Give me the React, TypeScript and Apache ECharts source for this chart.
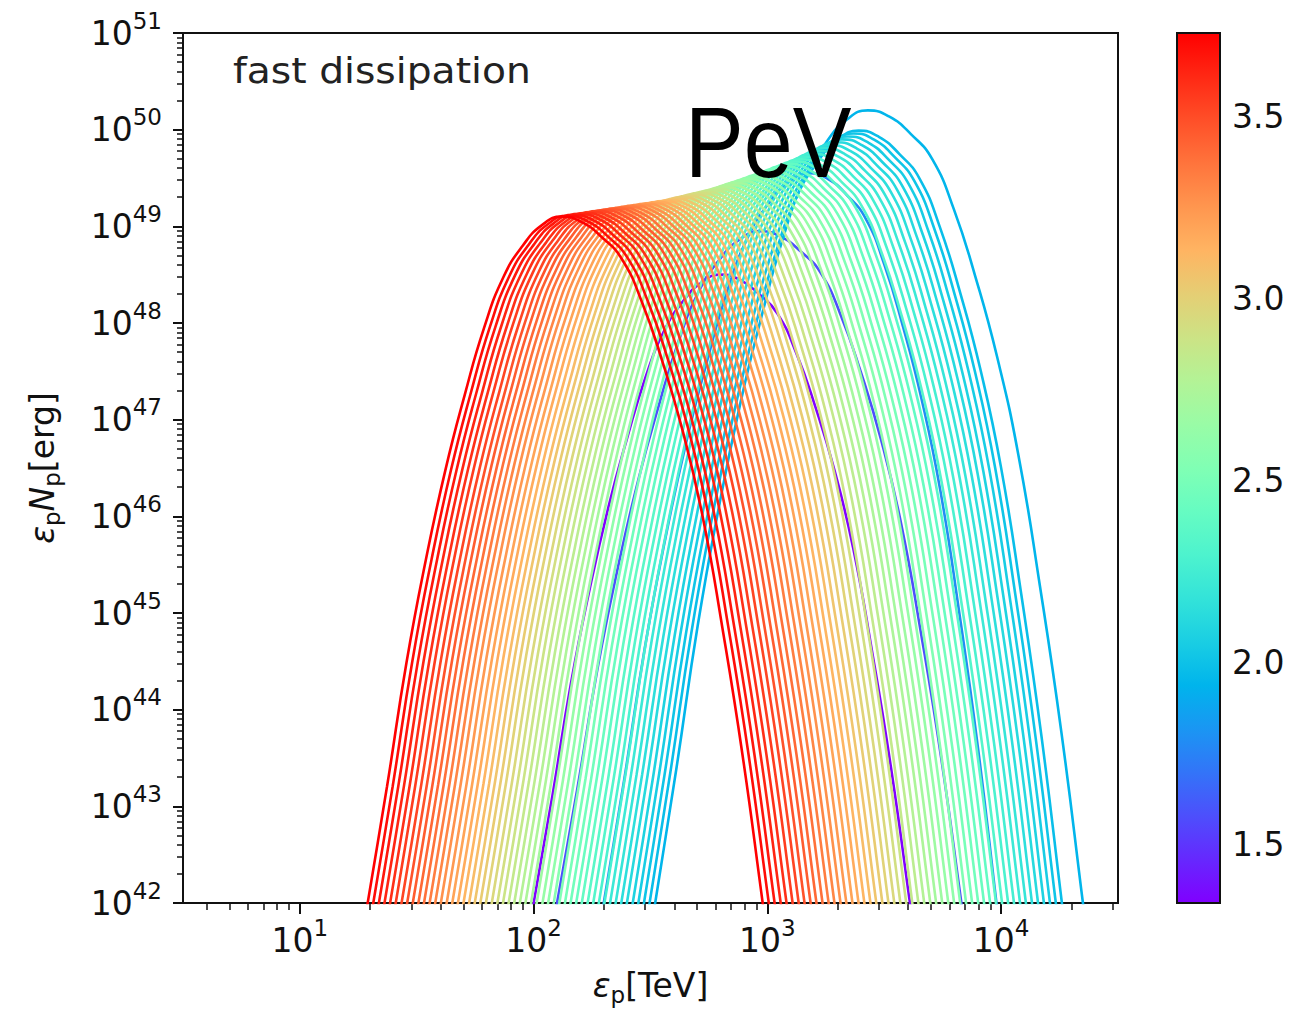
import React, { useEffect, useRef } from "react";
import * as echarts from "echarts";

// ---- data (log10 units) ----
// colour-bar value of each curve, in drawing order
const colorValues = [
  1.34, 1.58, 1.78,
  1.94, 1.98, 2.01, 2.05, 2.08, 2.12, 2.15, 2.19, 2.22, 2.26, 2.29, 2.33, 2.36, 2.4, 2.43, 2.47, 2.5,
  2.54, 2.57, 2.61, 2.64, 2.68, 2.71, 2.75, 2.78, 2.82, 2.85, 2.89, 2.92, 2.96, 2.99, 3.03, 3.06, 3.1,
  3.13, 3.17, 3.2, 3.24, 3.27, 3.31, 3.34, 3.38, 3.41, 3.45, 3.48, 3.52, 3.55, 3.59, 3.62, 3.66, 3.69, 3.73,
];
// log10(eps_p/TeV) where each curve crosses 1e42 on its rising side
const footLeft = [
  2.0, 2.1, 2.3,
  2.52, 2.496, 2.472, 2.448, 2.424, 2.399, 2.375, 2.351, 2.327, 2.303, 2.279, 2.255, 2.231, 2.206, 2.182,
  2.158, 2.134, 2.11, 2.086, 2.062, 2.038, 2.013, 1.989, 1.965, 1.941, 1.917, 1.893, 1.869, 1.845, 1.821,
  1.796, 1.772, 1.748, 1.724, 1.7, 1.676, 1.652, 1.628, 1.603, 1.579, 1.555, 1.531, 1.507, 1.483, 1.459,
  1.435, 1.41, 1.386, 1.362, 1.338, 1.314, 1.29,
];
// log10(eps_p/TeV) of each peak
const peakE = [
  2.8, 2.97, 3.18,
  3.43, 3.39, 3.37, 3.345, 3.32, 3.295, 3.27, 3.245, 3.22, 3.195, 3.17, 3.144, 3.119, 3.093, 3.068,
  3.042, 3.016, 2.991, 2.965, 2.939, 2.914, 2.888, 2.862, 2.837, 2.811, 2.786, 2.76, 2.734, 2.709, 2.683,
  2.657, 2.632, 2.606, 2.581, 2.555, 2.529, 2.504, 2.478, 2.452, 2.427, 2.401, 2.375, 2.35, 2.324, 2.299,
  2.273, 2.247, 2.222, 2.196, 2.17, 2.145, 2.12,
];
// log10(eps_p N_p / erg) of each peak
const peakN = [
  48.5, 48.95, 49.55,
  50.2, 49.99, 49.96, 49.93, 49.9, 49.87, 49.84, 49.81, 49.78, 49.75, 49.72, 49.694, 49.671, 49.646, 49.623,
  49.599, 49.575, 49.553, 49.532, 49.511, 49.49, 49.469, 49.448, 49.428, 49.407, 49.388, 49.373, 49.358, 49.344, 49.329,
  49.314, 49.3, 49.285, 49.27, 49.261, 49.252, 49.242, 49.233, 49.223, 49.214, 49.205, 49.195, 49.186, 49.177, 49.167,
  49.157, 49.148, 49.138, 49.129, 49.119, 49.109, 49.1,
];
// log10(eps_p/TeV) where each curve crosses 1e42 on its falling side
const footRight = [
  3.61, 3.83, 3.98,
  4.35, 4.26, 4.234, 4.209, 4.183, 4.158, 4.132, 4.106, 4.081, 4.055, 4.03, 4.004, 3.978, 3.953, 3.927,
  3.902, 3.876, 3.85, 3.825, 3.799, 3.774, 3.748, 3.722, 3.697, 3.671, 3.646, 3.62, 3.594, 3.569, 3.543,
  3.518, 3.492, 3.466, 3.441, 3.415, 3.39, 3.364, 3.338, 3.313, 3.287, 3.262, 3.236, 3.21, 3.185, 3.159,
  3.134, 3.108, 3.082, 3.057, 3.031, 3.006, 2.98,
];
// common curve profile (fraction of width from foot -> fraction of height)
const riseU = [-0.12, 0, 0.1, 0.2, 0.3, 0.4, 0.5, 0.6, 0.7, 0.8, 0.9, 1.0];
const riseH = [-0.21, 0, 0.17, 0.35, 0.5, 0.63, 0.74, 0.838, 0.912, 0.958, 0.988, 1.0];
const fallV = [-0.12, 0, 0.1, 0.2, 0.3, 0.4, 0.5, 0.6, 0.7, 0.8, 0.9, 1.0];
const fallH = [-0.26, 0, 0.215, 0.4, 0.565, 0.69, 0.79, 0.875, 0.938, 0.97, 0.992, 1.0];

const xMajorTicks = [1, 2, 3, 4];
const yMajorTicks = [42, 43, 44, 45, 46, 47, 48, 49, 50, 51];
const colorbarTicks = [1.5, 2.0, 2.5, 3.0, 3.5];
const colorMin = 1.34;
const colorMax = 3.73;

// ---- styling helpers ----
function rainbow(t: number): string {
  const c = (v: number) => Math.round(255 * Math.min(1, Math.max(0, v)));
  const r = Math.abs(2 * t - 0.5);
  const g = Math.sin(Math.PI * t);
  const b = Math.cos((Math.PI * t) / 2);
  return `rgb(${c(r)},${c(g)},${c(b)})`;
}

function minorTicks(lo: number, hi: number, from: number, to: number): number[] {
  const out: number[] = [];
  for (let n = from; n <= to; n++) {
    for (let m = 2; m <= 9; m++) {
      const v = n + Math.log10(m);
      if (v > lo && v < hi) out.push(v);
    }
  }
  return out;
}

const FONT = "DejaVu Sans";
const GRID = { left: 183, top: 33, width: 935, height: 870 };
const CBAR = { left: 1177, top: 33, width: 43, height: 870 };

const powRich = {
  b: { fontSize: 33, fontFamily: FONT, color: "#111", lineHeight: 48 },
  s: { fontSize: 23, fontFamily: FONT, color: "#111", verticalAlign: "top" },
};
const nameRich = {
  e: { fontSize: 33, fontFamily: FONT, fontStyle: "italic", color: "#111", lineHeight: 42 },
  p: { fontSize: 23, fontFamily: FONT, color: "#111", verticalAlign: "bottom" },
  t: { fontSize: 33, fontFamily: FONT, color: "#111", lineHeight: 42 },
};

export default function App() {
  const ref = useRef<HTMLDivElement>(null);
  useEffect(() => {
    document.body.style.margin = "0";
    if (!ref.current) return;
    const chart = echarts.init(ref.current, null, { renderer: "svg" });

    const series = colorValues.map((cv, i) => {
      const pts: number[][] = [];
      for (let j = 0; j < riseU.length; j++) {
        pts.push([
          footLeft[i] + riseU[j] * (peakE[i] - footLeft[i]),
          42 + riseH[j] * (peakN[i] - 42),
        ]);
      }
      for (let j = fallV.length - 2; j >= 0; j--) {
        pts.push([
          footRight[i] - fallV[j] * (footRight[i] - peakE[i]),
          42 + fallH[j] * (peakN[i] - 42),
        ]);
      }
      return {
        type: "line",
        xAxisIndex: 0,
        yAxisIndex: 0,
        data: pts,
        showSymbol: false,
        symbol: "none",
        smooth: 0.5,
        clip: true,
        silent: true,
        lineStyle: { color: rainbow((cv - colorMin) / (colorMax - colorMin)), width: 2.6 },
      };
    });

    const stops = [];
    for (let s = 0; s <= 20; s++) {
      stops.push({ offset: s / 20, color: rainbow(1 - s / 20) });
    }

    const option = {
      animation: false,
      backgroundColor: "#fff",
      grid: [
        { ...GRID, show: true, borderColor: "#111", borderWidth: 2, backgroundColor: "transparent", containLabel: false, outerBoundsMode: "none" },
        { ...CBAR, show: false, containLabel: false, outerBoundsMode: "none" },
      ],
      xAxis: [
        {
          type: "value",
          gridIndex: 0,
          min: 0.5,
          max: 4.5,
          position: "bottom",
          axisLine: { show: true, lineStyle: { color: "#111", width: 2 } },
          axisTick: { show: true, customValues: xMajorTicks, length: 11, lineStyle: { color: "#111", width: 2 } },
          axisLabel: {
            show: true,
            customValues: xMajorTicks,
            margin: 13,
            formatter: (v: number) => `{b|10}{s|${Math.round(v)}}`,
            rich: powRich,
          },
          splitLine: { show: false },
          name: "{e|ε}{p|p}{t|[TeV]}",
          nameLocation: "middle",
          nameGap: 61,
          nameTextStyle: { rich: nameRich },
        },
        {
          type: "value",
          gridIndex: 0,
          min: 0.5,
          max: 4.5,
          position: "bottom",
          axisLine: { show: false },
          axisTick: { show: true, customValues: minorTicks(0.5, 4.5, 0, 4), length: 7, lineStyle: { color: "#111", width: 1.5 } },
          axisLabel: { show: false },
          splitLine: { show: false },
        },
        { type: "value", gridIndex: 1, show: false, min: 0, max: 1 },
      ],
      yAxis: [
        {
          type: "value",
          gridIndex: 0,
          min: 42,
          max: 51,
          interval: 1,
          position: "left",
          axisLine: { show: true, lineStyle: { color: "#111", width: 2 } },
          axisTick: { show: true, customValues: yMajorTicks, length: 10, lineStyle: { color: "#111", width: 2 } },
          axisLabel: {
            show: true,
            customValues: yMajorTicks,
            margin: 21,
            formatter: (v: number) => `{b|10}{s|${Math.round(v)}}`,
            rich: powRich,
          },
          splitLine: { show: false },
          name: "{e|ε}{p|p}{e|N}{p|p}{t|[erg]}",
          nameLocation: "middle",
          nameRotate: 90,
          nameGap: 120,
          nameTextStyle: { rich: nameRich },
        },
        {
          type: "value",
          gridIndex: 0,
          min: 42,
          max: 51,
          position: "left",
          axisLine: { show: false },
          axisTick: { show: true, customValues: minorTicks(42, 51, 42, 50), length: 6, lineStyle: { color: "#111", width: 1.5 } },
          axisLabel: { show: false },
          splitLine: { show: false },
        },
        {
          type: "value",
          gridIndex: 1,
          min: colorMin,
          max: colorMax,
          position: "right",
          axisLine: { show: false },
          axisTick: { show: true, customValues: colorbarTicks, length: 9, lineStyle: { color: "#111", width: 2 } },
          axisLabel: {
            show: true,
            customValues: colorbarTicks,
            margin: 12,
            formatter: (v: number) => v.toFixed(1),
            fontSize: 33,
            fontFamily: FONT,
            color: "#111",
          },
          splitLine: { show: false },
        },
      ],
      graphic: [
        {
          type: "rect",
          shape: { x: CBAR.left, y: CBAR.top, width: CBAR.width, height: CBAR.height },
          style: {
            fill: new echarts.graphic.LinearGradient(0, 0, 0, 1, stops),
            stroke: "#111",
            lineWidth: 2,
          },
          z: 10,
        },
        {
          type: "text",
          x: 233,
          y: 71,
          scaleX: 1.09,
          style: {
            text: "fast dissipation",
            fontSize: 36,
            fontFamily: FONT,
            fill: "#222",
            textAlign: "left",
            textVerticalAlign: "middle",
          },
          z: 20,
        },
        {
          type: "text",
          x: 685,
          y: 142,
          scaleX: 0.88,
          style: {
            text: "PeV",
            fontSize: 100,
            fontFamily: "Liberation Sans",
            fill: "#000",
            textAlign: "left",
            textVerticalAlign: "middle",
          },
          z: 20,
        },
      ],
      series,
    };

    chart.setOption(option as any);
    return () => chart.dispose();
  }, []);

  return <div ref={ref} style={{ width: 1298, height: 1011 }} />;
}
